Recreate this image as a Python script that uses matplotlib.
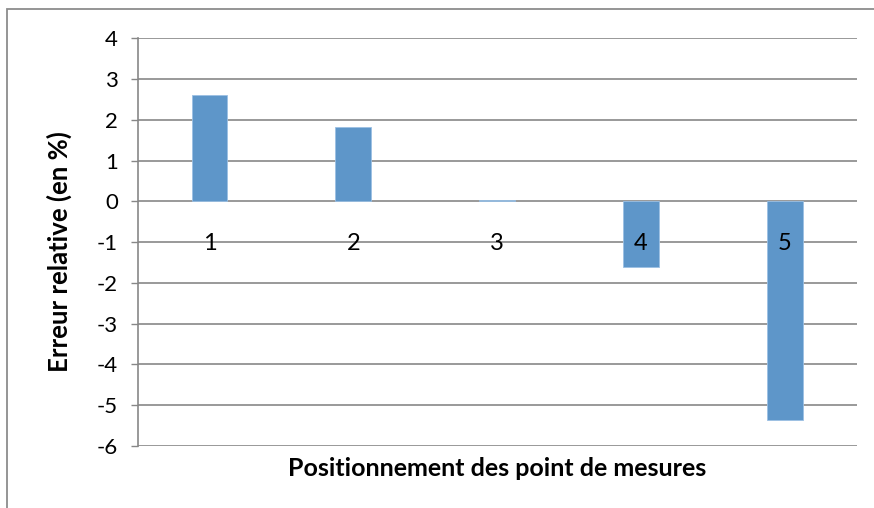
import matplotlib
matplotlib.use("Agg")
import matplotlib.pyplot as plt
from matplotlib.patches import Rectangle
import numpy as np

# Relative error at each measurement point
points = ["1", "2", "3", "4", "5"]
errors = [2.60, 1.82, 0.04, -1.61, -5.37]
y_ticks = [4, 3, 2, 1, 0, -1, -2, -3, -4, -5, -6]

plt.rcParams["font.family"] = ["Lato", "DejaVu Sans"]

W, H = 874, 508
fig = plt.figure(figsize=(W / 100, H / 100), dpi=100)

# axes box in pixels
left_px, right_px, top_px, bottom_px = 137.5, 856.7, 38.3, 446.0
ax = fig.add_axes([left_px / W, 1 - bottom_px / H,
                   (right_px - left_px) / W, (bottom_px - top_px) / H])

grid_col = "#878787"
bar_col = "#5E96C9"

x = np.arange(len(points))
ax.bar(x, errors, width=0.248, color=bar_col, edgecolor="#9BC0E4",
       linewidth=0.6, zorder=3)

ax.set_xlim(-0.5, len(points) - 0.5)
ax.set_ylim(min(y_ticks), max(y_ticks))
ax.set_yticks(y_ticks)
ax.set_yticklabels([str(v) for v in y_ticks], fontsize=16)
ax.yaxis.grid(True, color=grid_col, linewidth=1.2, zorder=1)
ax.tick_params(axis="y", direction="out", length=5, width=1.0,
               color=grid_col, pad=9)
ax.set_xticks([])

for s in ["top", "right", "bottom"]:
    ax.spines[s].set_visible(False)
ax.spines["left"].set_color(grid_col)
ax.spines["left"].set_linewidth(1.2)

# category labels sit just under the zero line
for xi, lab in zip(x, points):
    ax.annotate(lab, xy=(xi, 0), xytext=(0, -42), textcoords="offset pixels",
                ha="center", va="center", fontsize=17, color="black", zorder=4)

ax.set_ylabel("Erreur relative (en %)", fontsize=18.5, fontweight="bold")
ax.yaxis.set_label_coords((59 - left_px) / (right_px - left_px),
                          (bottom_px - 252) / (bottom_px - top_px))
ax.yaxis.label.set_va("center")

ax.set_xlabel("Positionnement des point de mesures", fontsize=18,
              fontweight="bold")
ax.xaxis.set_label_coords(0.5, (bottom_px - 468) / (bottom_px - top_px))
ax.xaxis.label.set_va("center")

# outer chart frame
fig.patches.append(Rectangle((6.5 / W, -0.1), 1.2, 1.1 - 9 / H,
                             transform=fig.transFigure, fill=False,
                             edgecolor="#8C8C8C", linewidth=1.3))

fig.savefig("out.png", dpi=100)
